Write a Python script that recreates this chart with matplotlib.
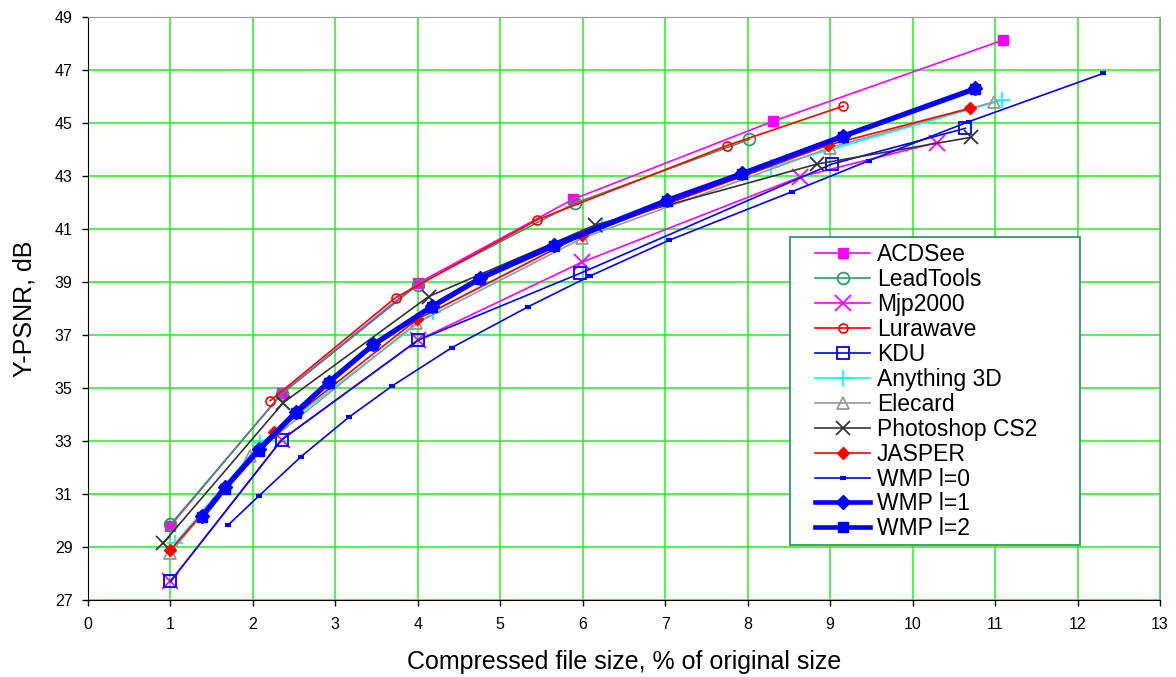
import numpy as np
import matplotlib
matplotlib.use("Agg")
import matplotlib.pyplot as plt
from matplotlib.patches import Rectangle

plt.rcParams['font.family'] = ['Liberation Sans', 'DejaVu Sans']

# compressed size (% of original) / Y-PSNR (dB) for each codec
acdsee_x = [1.0, 2.35, 4.0, 5.88, 8.31, 11.1]
acdsee_y = [29.8, 34.8, 38.95, 42.12, 45.07, 48.13]

leadtools_x = [1.0, 2.35, 4.0, 5.9, 8.02]
leadtools_y = [29.85, 34.78, 38.9, 41.97, 44.38]

mjp_x = [1.0, 2.35, 4.0, 5.99, 8.64, 10.29]
mjp_y = [27.7, 33.05, 36.8, 39.75, 42.97, 44.26]

lura_x = [2.21, 3.73, 5.45, 7.75, 9.16]
lura_y = [34.52, 38.41, 41.35, 44.15, 45.64]

kdu_x = [1.0, 2.35, 4.0, 5.97, 9.02, 10.64]
kdu_y = [27.7, 33.05, 36.8, 39.33, 43.45, 44.8]

any3d_x = [1.06, 2.09, 4.19, 6.23, 8.28, 11.09]
any3d_y = [29.15, 32.91, 37.88, 41.15, 43.35, 45.87]

elecard_x = [1.0, 1.97, 3.98, 5.99, 9.0, 10.99]
elecard_y = [28.78, 32.43, 37.44, 40.65, 44.07, 45.8]

ps_x = [0.91, 2.37, 4.13, 6.15, 8.84, 10.71]
ps_y = [29.14, 34.45, 38.45, 41.15, 43.45, 44.46]

jasper_x = [1.0, 2.26, 3.99, 5.99, 8.98, 10.69]
jasper_y = [28.89, 33.35, 37.59, 40.77, 44.17, 45.55]

wmp0_x = [1.70, 2.07, 2.58, 3.16, 3.69, 4.41, 5.34, 6.09, 7.05, 8.54, 9.47, 10.68, 12.31]
wmp0_y = [29.83, 30.92, 32.4, 33.89, 35.08, 36.52, 38.07, 39.23, 40.58, 42.41, 43.58, 45.05, 46.87]

wmp1_x = [1.38, 1.66, 2.07, 2.52, 2.92, 3.46, 4.17, 4.76, 5.65, 7.02, 7.93, 9.15, 10.76]
wmp1_y = [30.17, 31.25, 32.69, 34.1, 35.24, 36.65, 38.09, 39.16, 40.4, 42.09, 43.1, 44.51, 46.31]

wmp2_x = [1.38, 1.66, 2.07, 2.52, 2.92, 3.46, 4.17, 4.76, 5.65, 7.02, 7.93, 9.15, 10.76]
wmp2_y = [30.12, 31.2, 32.64, 34.05, 35.2, 36.62, 38.05, 39.13, 40.36, 42.05, 43.07, 44.48, 46.28]

fig = plt.figure(figsize=(11.76, 6.77), dpi=100)
ax = fig.add_axes([0.0748, 0.1137, 0.9116, 0.8612])

ax.plot(acdsee_x, acdsee_y, color='#FF00FF', lw=1.2, marker='s', ms=7, label='ACDSee')
ax.plot(leadtools_x, leadtools_y, color='#339966', lw=1.2, marker='o', ms=8.5,
        mfc='none', mew=1.3, label='LeadTools')
ax.plot(mjp_x, mjp_y, color='#FF00FF', lw=1.2, marker='x', ms=11, mew=1.3, label='Mjp2000')
ax.plot(lura_x, lura_y, color='#FF0000', lw=1.2, marker='o', ms=6.5,
        mfc='none', mew=1.2, label='Lurawave')
ax.plot(kdu_x, kdu_y, color='#0000FF', lw=1.2, marker='s', ms=9,
        mfc='none', mew=1.3, label='KDU')
ax.plot(any3d_x, any3d_y, color='#00FFFF', lw=1.2, marker='+', ms=12, mew=1.3, label='Anything 3D')
ax.plot(elecard_x, elecard_y, color='#999999', lw=1.2, marker='^', ms=9,
        mfc='none', mew=1.3, label='Elecard')
ax.plot(ps_x, ps_y, color='#333333', lw=1.2, marker='x', ms=10, mew=1.3, label='Photoshop CS2')
ax.plot(jasper_x, jasper_y, color='#FF0000', lw=1.2, marker='D', ms=6.5, label='JASPER')
ax.plot(wmp0_x, wmp0_y, color='#0000FF', lw=1.2, marker='_', ms=5, mew=3, label='WMP l=0')
ax.plot(wmp1_x, wmp1_y, color='#0000FF', lw=3.3, marker='D', ms=7, label='WMP l=1')
ax.plot(wmp2_x, wmp2_y, color='#0000FF', lw=3.3, marker='s', ms=6.5, label='WMP l=2')

ax.set_xlim(0, 13)
ax.set_ylim(27, 49)
ax.set_xticks(np.arange(0, 14, 1))
ax.set_yticks(np.arange(27, 50, 2))
ax.tick_params(labelsize=11.5, direction='out', length=4, width=1)
ax.tick_params(axis='x', pad=8)
ax.tick_params(axis='y', pad=7)
ax.grid(True, color='#22EE22', lw=1.1)
ax.set_axisbelow(True)
for s in ['top', 'right']:
    ax.spines[s].set_color('#999999')

ax.set_xlabel('Compressed file size, % of original size', fontsize=18, labelpad=13)
ax.set_ylabel('Y-PSNR, dB', fontsize=18, labelpad=13)

# legend frame drawn separately so its padding can match the original
frame = Rectangle((790 / 1176, 1 - 545 / 677), 290 / 1176, 308 / 677,
                  transform=fig.transFigure, facecolor='white',
                  edgecolor='#339966', lw=1.3, zorder=4, clip_on=False)
ax.add_patch(frame)
leg = ax.legend(loc='upper left', bbox_to_anchor=(815 / 1176, 1 - 243 / 677),
                bbox_transform=fig.transFigure, borderaxespad=0, borderpad=0,
                fontsize=16.5, frameon=False, handlelength=2.4,
                labelspacing=0.085, handletextpad=0.3)
leg.set_zorder(5)

fig.savefig('out.png', dpi=100)
